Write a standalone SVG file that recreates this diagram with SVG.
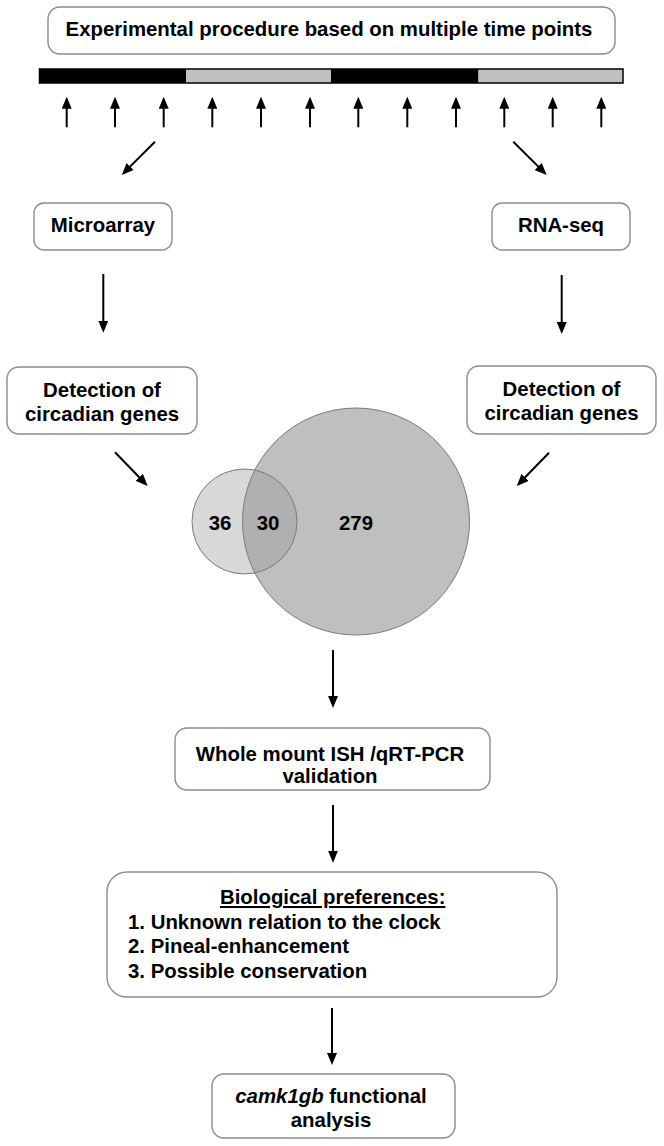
<svg xmlns="http://www.w3.org/2000/svg" width="664" height="1146" viewBox="0 0 664 1146">
<style>
.box{fill:#fff;stroke:#8c8c8c;stroke-width:1.4}
.t{font-family:"Liberation Sans",Arial,sans-serif;font-weight:bold;font-size:20.4px;fill:#000}
.c{text-anchor:middle}
.a{stroke:#000;stroke-width:2;fill:none;marker-end:url(#ah)}
.v{stroke:#7a7a7a;stroke-width:1;fill:none}
</style>
<defs>
<marker id="ah" viewBox="0 0 12 10" refX="2" refY="5" markerWidth="12" markerHeight="10" markerUnits="userSpaceOnUse" orient="auto">
<path d="M0,0 L12,5 L0,10 z" fill="#000"/>
</marker>
</defs>
<rect width="664" height="1146" fill="#fff"/>

<g id="top">
<rect class="box" x="48" y="7" width="567" height="47" rx="12"/>
<text class="t c" x="329" y="35.7">Experimental procedure based on multiple time points</text>
</g>

<g id="timebar">
<rect x="39.5" y="69" width="146.5" height="14" fill="#000"/>
<rect x="186" y="69" width="145" height="14" fill="#c0c0c0"/>
<rect x="331" y="69" width="147.5" height="14" fill="#000"/>
<rect x="478.5" y="69" width="144.5" height="14" fill="#c0c0c0"/>
<rect x="39.5" y="69" width="583.5" height="14" fill="none" stroke="#000" stroke-width="1.5"/>
</g>

<g id="microarray">
<rect class="box" x="34" y="203" width="138" height="47" rx="10"/>
<text class="t c" x="103" y="231.7">Microarray</text>
</g>
<g id="rnaseq">
<rect class="box" x="492" y="203" width="138" height="47" rx="10"/>
<text class="t c" x="561" y="231.7">RNA-seq</text>
</g>

<g id="detection-left">
<rect class="box" x="7" y="367" width="190" height="67" rx="12"/>
<text class="t c" x="102" y="396.7">Detection of</text>
<text class="t c" x="102" y="420.7">circadian genes</text>
</g>
<g id="detection-right">
<rect class="box" x="467" y="366" width="189" height="68" rx="12"/>
<text class="t c" x="561.5" y="396">Detection of</text>
<text class="t c" x="561.5" y="420">circadian genes</text>
</g>

<g id="venn">
<circle cx="356" cy="521.5" r="113.5" fill="#bfbfbf"/>
<circle cx="244.5" cy="521.5" r="52.5" fill="#979797" fill-opacity="0.375"/>
<circle class="v" cx="356" cy="521.5" r="113.5"/>
<circle class="v" cx="244.5" cy="521.5" r="52.5"/>
<text class="t c" x="220" y="530">36</text>
<text class="t c" x="268" y="530">30</text>
<text class="t c" x="356" y="530">279</text>
</g>

<g id="validation">
<rect class="box" x="175" y="728" width="315" height="62" rx="12"/>
<text class="t c" x="330" y="760.7">Whole mount ISH /qRT-PCR</text>
<text class="t c" x="330" y="782.7">validation</text>
</g>

<g id="preferences">
<rect class="box" x="107" y="872" width="450" height="125" rx="20"/>
<text class="t c" x="332.7" y="904" text-decoration="underline">Biological preferences:</text>
<text class="t" x="128" y="929">1. Unknown relation to the clock</text>
<text class="t" x="128" y="953">2. Pineal-enhancement</text>
<text class="t" x="128" y="978">3. Possible conservation</text>
</g>

<g id="camk">
<rect class="box" x="212" y="1074" width="243" height="64" rx="12"/>
<text class="t c" x="331" y="1102.7"><tspan font-style="italic">camk1gb</tspan> functional</text>
<text class="t c" x="331" y="1126.7">analysis</text>
</g>

<g id="connectors">
<line class="a" x1="66.7" y1="127.3" x2="66.7" y2="106.7"/>
<line class="a" x1="115" y1="127.3" x2="115" y2="106.7"/>
<line class="a" x1="163.7" y1="127.3" x2="163.7" y2="106.7"/>
<line class="a" x1="212.3" y1="127.3" x2="212.3" y2="106.7"/>
<line class="a" x1="261" y1="127.3" x2="261" y2="106.7"/>
<line class="a" x1="310" y1="127.3" x2="310" y2="106.7"/>
<line class="a" x1="358.3" y1="127.3" x2="358.3" y2="106.7"/>
<line class="a" x1="407.3" y1="127.3" x2="407.3" y2="106.7"/>
<line class="a" x1="456" y1="127.3" x2="456" y2="106.7"/>
<line class="a" x1="504.3" y1="127.3" x2="504.3" y2="106.7"/>
<line class="a" x1="552.7" y1="127.3" x2="552.7" y2="106.7"/>
<line class="a" x1="601.3" y1="127.3" x2="601.3" y2="106.7"/>
<line class="a" x1="155" y1="141.7" x2="128.8" y2="167.9"/>
<line class="a" x1="513.3" y1="141.7" x2="539.6" y2="167.9"/>
<line class="a" x1="103.3" y1="274" x2="103.3" y2="322.7"/>
<line class="a" x1="561.7" y1="275" x2="561.7" y2="324"/>
<line class="a" x1="115" y1="452.3" x2="140.7" y2="478.8"/>
<line class="a" x1="549" y1="452.7" x2="523.7" y2="478.8"/>
<line class="a" x1="333" y1="650" x2="333" y2="698"/>
<line class="a" x1="333" y1="805" x2="333" y2="852.7"/>
<line class="a" x1="332" y1="1008" x2="332" y2="1055"/>
</g>
</svg>
